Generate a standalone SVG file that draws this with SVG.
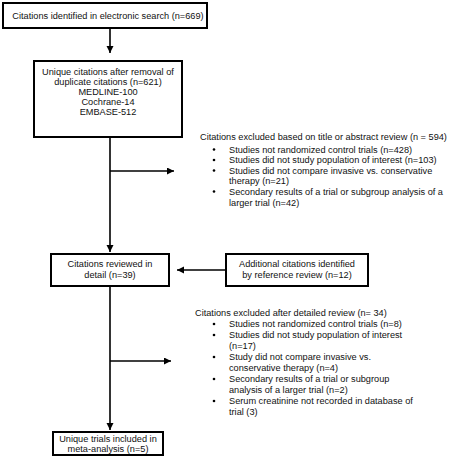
<svg xmlns="http://www.w3.org/2000/svg" width="450" height="463" viewBox="0 0 450 463">
<style>
text{font-family:"Liberation Sans",Arial,sans-serif;font-size:9.2px;fill:#111}
.c{text-anchor:middle}
.box{fill:#fff;stroke:#000;stroke-width:2}
.ln{fill:none;stroke:#000;stroke-width:1.6}
.dot{fill:#000}
</style>
<defs>
<marker id="ah" markerUnits="userSpaceOnUse" markerWidth="8" markerHeight="8" refX="7" refY="3.5" orient="auto">
<path d="M0,0 L7,3.5 L0,7 z" fill="#000"/>
</marker>
</defs>
<rect width="450" height="463" fill="#fff"/>
<g id="connectors">
<line class="ln" x1="110" y1="28" x2="110" y2="53" marker-end="url(#ah)"/>
<line class="ln" x1="110" y1="138" x2="110" y2="252" marker-end="url(#ah)"/>
<line class="ln" x1="110" y1="171" x2="174" y2="171" marker-end="url(#ah)"/>
<line class="ln" x1="226" y1="270" x2="177" y2="270" marker-end="url(#ah)"/>
<line class="ln" x1="110" y1="287" x2="110" y2="430" marker-end="url(#ah)"/>
<line class="ln" x1="110" y1="361" x2="171" y2="361" marker-end="url(#ah)"/>
</g>
<g id="search">
<rect class="box" x="3" y="3" width="204" height="25"/>
<text class="c" x="108" y="18.5">Citations identified in electronic search (n=669)</text>
</g>
<g id="unique">
<rect class="box" x="34" y="61" width="148" height="76"/>
<text class="c" x="108" y="75">Unique citations after removal of</text>
<text class="c" x="108" y="85">duplicate citations (n=621)</text>
<text class="c" x="108" y="95">MEDLINE-100</text>
<text class="c" x="108" y="104.5">Cochrane-14</text>
<text class="c" x="108" y="114.5">EMBASE-512</text>
</g>
<g id="excluded1">
<text x="200" y="140">Citations excluded based on title or abstract review (n = 594)</text>
<circle class="dot" cx="214" cy="149.5" r="1.3"/>
<text x="229" y="152.5">Studies not randomized control trials (n=428)</text>
<circle class="dot" cx="214" cy="160" r="1.3"/>
<text x="229" y="163">Studies did not study population of interest (n=103)</text>
<circle class="dot" cx="214" cy="170.5" r="1.3"/>
<text x="229" y="173.5">Studies did not compare invasive vs. conservative</text>
<text x="229" y="184">therapy (n=21)</text>
<circle class="dot" cx="214" cy="191.5" r="1.3"/>
<text x="229" y="194.5">Secondary results of a trial or subgroup analysis of a</text>
<text x="229" y="205.5">larger trial (n=42)</text>
</g>
<g id="reviewed">
<rect class="box" x="51" y="254" width="118" height="32"/>
<text class="c" x="110" y="267">Citations reviewed in</text>
<text class="c" x="110" y="278">detail (n=39)</text>
</g>
<g id="additional">
<rect class="box" x="226" y="254" width="142" height="32"/>
<text class="c" x="297" y="267">Additional citations identified</text>
<text class="c" x="297" y="278">by reference review (n=12)</text>
</g>
<g id="excluded2">
<text x="195" y="316">Citations excluded after detailed review (n= 34)</text>
<circle class="dot" cx="214" cy="324" r="1.3"/>
<text x="229" y="327">Studies not randomized control trials (n=8)</text>
<circle class="dot" cx="214" cy="335" r="1.3"/>
<text x="229" y="338">Studies did not study population of interest</text>
<text x="229" y="349">(n=17)</text>
<circle class="dot" cx="214" cy="357" r="1.3"/>
<text x="229" y="360">Study did not compare invasive vs.</text>
<text x="229" y="371">conservative therapy (n=4)</text>
<circle class="dot" cx="214" cy="379" r="1.3"/>
<text x="229" y="382">Secondary results of a trial or subgroup</text>
<text x="229" y="393">analysis of a larger trial (n=2)</text>
<circle class="dot" cx="214" cy="401" r="1.3"/>
<text x="229" y="404">Serum creatinine not recorded in database of</text>
<text x="229" y="415">trial (3)</text>
</g>
<g id="included">
<rect class="box" x="53" y="432" width="110" height="23"/>
<text class="c" x="108" y="442">Unique trials included in</text>
<text class="c" x="108" y="452">meta-analysis (n=5)</text>
</g>
</svg>
